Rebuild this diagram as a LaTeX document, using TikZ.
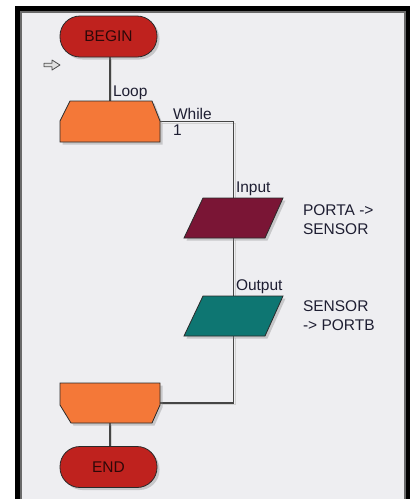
\documentclass[tikz,border=0pt]{standalone}
\usepackage{fontspec}
\setmainfont{Liberation Sans}
\usetikzlibrary{calc,shadows}
\definecolor{frameBg}{HTML}{EEEEF1}
\definecolor{frameGray}{HTML}{6A6A6A}
\definecolor{termRed}{HTML}{BF221E}
\definecolor{termText}{HTML}{2E0808}
\definecolor{loopOrange}{HTML}{F47838}
\definecolor{inMaroon}{HTML}{7A1535}
\definecolor{outTeal}{HTML}{0E7672}
\definecolor{outlineC}{HTML}{2A2A2A}
\definecolor{lineC}{HTML}{454545}
\definecolor{labelC}{HTML}{1E1E32}
\begin{document}
\begin{tikzpicture}[x=1pt,y=-1pt,
  lbl/.style={anchor=base west, inner sep=0pt, outer sep=0pt, text=labelC, font=\fontsize{15.5}{19}\selectfont},
  term/.style={rounded corners=20pt, minimum width=97pt, minimum height=41pt, inner sep=0pt,
     fill=termRed, draw=outlineC, line width=0.8pt, text=termText, font=\fontsize{15.5}{19}\selectfont,
     drop shadow={shadow xshift=2.5pt, shadow yshift=-2.5pt, opacity=0.35}},
  hold/.style={draw=none, inner sep=0pt, outer sep=0pt},
  shp/.style={draw=outlineC, line width=0.8pt, drop shadow={shadow xshift=2.5pt, shadow yshift=-2.5pt, opacity=0.35}},
  conn/.style={draw=lineC, line width=1.2pt,
     preaction={draw=black!18, line width=1.2pt, transform canvas={shift={(1.6pt,-1.6pt)}}}}
]
\useasboundingbox (0,0) rectangle (411,499);
% frame
\fill[white] (0,0) rectangle (411,499);
\fill[black] (15,5.5) rectangle (410,499);
\fill[frameGray] (20,10.5) rectangle (406,499);
\fill[frameBg] (22,12.5) rectangle (404,499);

% start marker arrow
\path[draw=black!70, fill=black!12, line width=0.8pt, line join=round]
  (44,63.3) -- (52,63.3) -- (52,60) -- (60,65) -- (52,70) -- (52,66.7) -- (44,66.7) -- cycle;

% placeholder nodes
\node[hold, minimum width=100pt, minimum height=41pt] (loopS) at (110,121.5) {};
\node[hold, minimum width=100pt, minimum height=40pt] (loopE) at (110,403) {};
\node[hold, minimum width=99pt, minimum height=40pt] (inp) at (233.5,218) {};
\node[hold, minimum width=99pt, minimum height=40pt] (outp) at (233.5,316) {};

% connectors
\draw[conn] (loopS.north) -- (110,57);
\draw[conn] (loopS.east) -| (inp.north);
\draw[conn] (inp.south) -- (outp.north);
\draw[conn] (outp.south) |- (loopE.east);
\draw[conn] (loopE.south) -- (110,447);

% terminals
\node[term] (begin) at (108.5,36.5) {BEGIN};
\node[term] (endN) at (108.5,467) {END};

% loop start
\path[shp, fill=loopOrange]
  ($(loopS.north west)+(10,0)$) -- ($(loopS.north east)+(-8,0)$) -- ($(loopS.east)+(0,-0.5)$)
  -- (loopS.south east) -- (loopS.south west) -- ($(loopS.west)+(0,-0.5)$) -- cycle;
% loop end
\path[shp, fill=loopOrange]
  (loopE.north west) -- (loopE.north east) -- ($(loopE.east)+(0,2)$)
  -- ($(loopE.south east)+(-8,0)$) -- ($(loopE.south west)+(11,0)$) -- ($(loopE.west)+(0,2)$) -- cycle;
% input
\path[shp, fill=inMaroon]
  ($(inp.north west)+(19,0)$) -- (inp.north east) -- ($(inp.south east)+(-18,0)$) -- (inp.south west) -- cycle;
% output
\path[shp, fill=outTeal]
  ($(outp.north west)+(19,0)$) -- (outp.north east) -- ($(outp.south east)+(-18,0)$) -- (outp.south west) -- cycle;

% labels
\node[lbl] (tLoop) at (113,96.5) {Loop};
\node[lbl] (tWhile) at (173,119) {While};
\node[lbl] (tOne) at (173,135.5) {1};
\node[lbl] (tIn) at (236,192) {Input};
\node[lbl] (tOut) at (236,290) {Output};
\node[lbl, align=left] (tInTxt) at (303,234) {PORTA ->\\SENSOR};
\node[lbl, align=left] (tOutTxt) at (303,330.7) {SENSOR\\-> PORTB};
\end{tikzpicture}
\end{document}
